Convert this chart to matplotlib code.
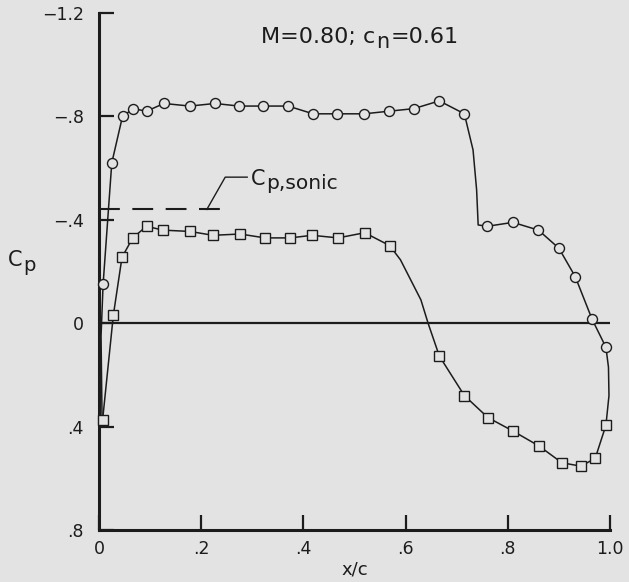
import matplotlib
matplotlib.use("Agg")
import matplotlib.pyplot as plt

# ---- data ----
upper_x = [0.008, 0.025, 0.046, 0.067, 0.093, 0.127, 0.178, 0.227, 0.274, 0.320,
           0.370, 0.419, 0.466, 0.519, 0.567, 0.616, 0.666, 0.715, 0.760, 0.810,
           0.860, 0.900, 0.932, 0.965, 0.992]
upper_cp = [-0.15, -0.62, -0.80, -0.83, -0.82, -0.85, -0.84, -0.85, -0.84, -0.84,
            -0.84, -0.81, -0.81, -0.81, -0.82, -0.83, -0.86, -0.81, -0.375, -0.39,
            -0.36, -0.29, -0.18, -0.015, 0.093]
# faired curve through the upper-surface points (incl. leading edge, shock, trailing edge)
upper_curve_x = [0.006, 0.004, 0.008, 0.025, 0.046, 0.067, 0.093, 0.127, 0.178, 0.227,
                 0.274, 0.320, 0.370, 0.419, 0.466, 0.519, 0.567, 0.616, 0.666, 0.715,
                 0.732, 0.739, 0.742, 0.760, 0.810, 0.860, 0.900, 0.932, 0.965, 0.992,
                 0.997, 0.998, 0.992]
upper_curve_cp = [0.375, 0.05, -0.15, -0.62, -0.80, -0.83, -0.82, -0.85, -0.84, -0.85,
                  -0.84, -0.84, -0.84, -0.81, -0.81, -0.81, -0.82, -0.83, -0.86, -0.81,
                  -0.67, -0.515, -0.38, -0.375, -0.39, -0.36, -0.29, -0.18, -0.015, 0.093,
                  0.17, 0.28, 0.395]

lower_x = [0.007, 0.028, 0.045, 0.066, 0.093, 0.125, 0.178, 0.223, 0.276, 0.325,
           0.374, 0.417, 0.468, 0.520, 0.569, 0.666, 0.715, 0.761, 0.810, 0.861,
           0.906, 0.943, 0.971, 0.992]
lower_cp = [0.375, -0.03, -0.255, -0.33, -0.375, -0.36, -0.355, -0.34, -0.345, -0.33,
            -0.33, -0.34, -0.33, -0.35, -0.30, 0.127, 0.28, 0.365, 0.417, 0.475,
            0.54, 0.553, 0.523, 0.395]
lower_curve_x = [0.007, 0.028, 0.045, 0.066, 0.093, 0.125, 0.178, 0.223, 0.276, 0.325,
                 0.374, 0.417, 0.468, 0.520, 0.569, 0.590, 0.630, 0.644, 0.666, 0.715,
                 0.761, 0.810, 0.861, 0.906, 0.943, 0.971, 0.992]
lower_curve_cp = [0.375, -0.03, -0.255, -0.33, -0.375, -0.36, -0.355, -0.34, -0.345, -0.33,
                  -0.33, -0.34, -0.33, -0.35, -0.30, -0.245, -0.09, 0.0, 0.127, 0.28,
                  0.365, 0.417, 0.475, 0.54, 0.553, 0.523, 0.395]

cp_sonic = -0.44
sonic_x = [0.0, 0.25]

x_ticks = [0, 0.2, 0.4, 0.6, 0.8, 1.0]
x_tick_labels = ["0", ".2", ".4", ".6", ".8", "1.0"]
y_ticks = [-1.2, -0.8, -0.4, 0, 0.4, 0.8]
y_tick_labels = ["\u22121.2", "\u2212.8", "\u2212.4", "0", ".4", ".8"]

title_parts = ["M=0.80; c", "n", "=0.61"]
sonic_parts = ["C", "p,sonic"]
ylabel_parts = ["C", "p"]

# ---- style ----
bg = "#e3e3e3"
ink = "#1c1c1c"
plt.rcParams["font.family"] = ["DejaVu Sans"]

fig = plt.figure(figsize=(6.29, 5.82), dpi=100, facecolor=bg)
ax = fig.add_axes([99 / 629, 1 - 530 / 582, (610 - 99) / 629, (530 - 13) / 582])
ax.set_facecolor(bg)

ax.set_xlim(0, 1.0)
ax.set_ylim(0.8, -1.2)

for s in ["top", "right"]:
    ax.spines[s].set_visible(False)
for s in ["left", "bottom"]:
    ax.spines[s].set_linewidth(2.2)
    ax.spines[s].set_color(ink)

ax.set_xticks(x_ticks)
ax.set_xticklabels(x_tick_labels)
ax.set_yticks(y_ticks)
ax.set_yticklabels(y_tick_labels)
ax.tick_params(axis="both", direction="in", length=11, width=1.6, color=ink,
               labelcolor=ink, labelsize=12.5)
ax.tick_params(axis="y", pad=11)
ax.tick_params(axis="x", pad=7)

# zero line
ax.plot([0, 1.0], [0, 0], color=ink, lw=1.6, zorder=2)

# sonic line
ax.plot(sonic_x, [cp_sonic, cp_sonic], color=ink, lw=1.5, dashes=(10, 6), zorder=2)
ax.plot([0.211, 0.247, 0.29], [cp_sonic, -0.565, -0.565], color=ink, lw=1.0, zorder=2)


def sub_text(x, y, main, sub, size, subsize, drop=4.0, ha="left"):
    t1 = ax.text(x, y, main, fontsize=size, color=ink, ha=ha, va="baseline",
                 clip_on=False)
    t2 = ax.annotate(sub, xy=(1.0, 0.0), xycoords=t1, xytext=(0.8, -drop),
                     textcoords="offset points", fontsize=subsize, color=ink,
                     ha="left", va="bottom", annotation_clip=False)
    return t1, t2


# Cp,sonic label
sub_text(0.297, -0.535, sonic_parts[0], sonic_parts[1], 15, 14.5, drop=3.0)

# title
t1, t2 = sub_text(0.317, -1.085, title_parts[0], title_parts[1], 16, 15, drop=3.5)
ax.annotate(title_parts[2], xy=(1.0, 0.0), xycoords=t2, xytext=(0.8, 3.5),
            textcoords="offset points", fontsize=16, color=ink, ha="left",
            va="bottom", annotation_clip=False)

# y label
sub_text(-0.178, -0.22, ylabel_parts[0], ylabel_parts[1], 15, 14, drop=3.5)

# curves
ax.plot(upper_curve_x, upper_curve_cp, color=ink, lw=1.1, zorder=3)
ax.plot(lower_curve_x, lower_curve_cp, color=ink, lw=1.1, zorder=3)
ax.plot(upper_x, upper_cp, ls="none", marker="o", ms=7.2, mfc=bg, mec=ink, mew=1.0,
        zorder=4, clip_on=False)
ax.plot(lower_x, lower_cp, ls="none", marker="s", ms=6.8, mfc=bg, mec=ink, mew=1.0,
        zorder=4, clip_on=False)

ax.set_xlabel("x/c", fontsize=13, color=ink, labelpad=2)

fig.savefig("out.png", dpi=100, facecolor=bg)
